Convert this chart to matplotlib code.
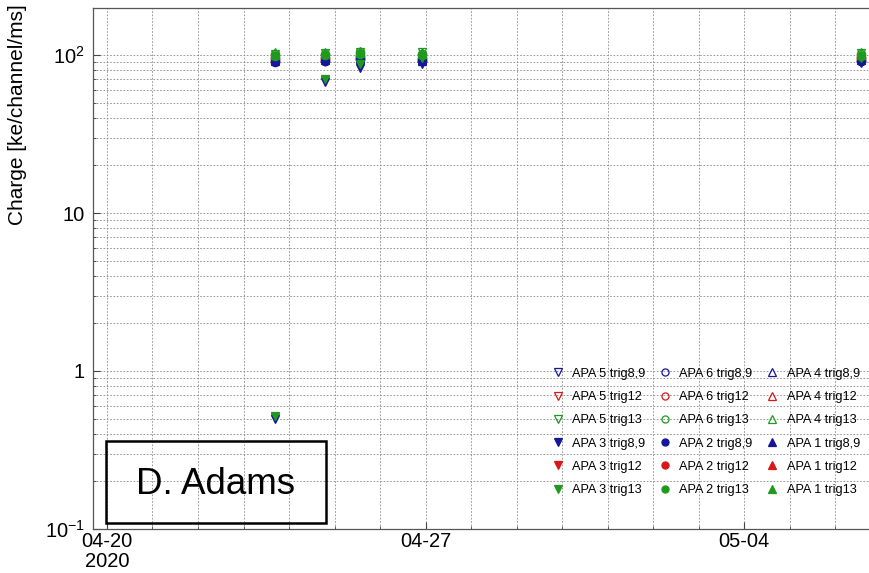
import numpy as np
import pandas as pd
import matplotlib
matplotlib.use('Agg')
import matplotlib.pyplot as plt
import matplotlib.dates as mdates
from matplotlib.ticker import FixedLocator, FixedFormatter, LogLocator, NullFormatter
from matplotlib.patches import Rectangle

plt.rcParams['font.family'] = ['Liberation Sans', 'DejaVu Sans']
plt.rcParams['mathtext.fontset'] = 'custom'
plt.rcParams['mathtext.rm'] = 'Liberation Sans'
plt.rcParams['mathtext.it'] = 'Liberation Sans:italic'

# Data
run_times = pd.to_datetime(['2020-04-23 16:30', '2020-04-24 19:00', '2020-04-25 13:30',
                            '2020-04-26 22:00', '2020-05-06 13:40'])

apa1_trig89 = [92, 93, 95, 92, 93]
apa1_trig12 = [96, 97, 98, 96, 97]
apa1_trig13 = [100, 101, 103, 101, 100]
apa2_trig89 = [90, 91, 94, 91, 92]
apa2_trig12 = [95, 96, 97, 95, 96]
apa2_trig13 = [99, 100, 102, 100, 99]
apa3_trig89 = [0.50, 67, 83, 88, 89]
apa3_trig12 = [0.51, 69, 86, 92, 92]
apa3_trig13 = [0.52, 71, 88, 96, 96]
apa4_trig89 = [93, 94, 96, 93, 94]
apa4_trig12 = [97, 98, 100, 98, 98]
apa4_trig13 = [104, 104, 106, 105, 104]
apa5_trig89 = [91, 92, 93, 90, 91]
apa5_trig12 = [96, 97, 99, 97, 97]
apa5_trig13 = [102, 103, 105, 104, 103]
apa6_trig89 = [92, 92, 95, 91, 92]
apa6_trig12 = [96, 96, 99, 96, 96]
apa6_trig13 = [101, 101, 104, 102, 101]

blue = '#16169a'
red = '#d81818'
green = '#1f9a1f'

# (label, values, marker, color, filled)
series = [
    ('APA 5 trig8,9', apa5_trig89, 'v', blue, False),
    ('APA 5 trig12', apa5_trig12, 'v', red, False),
    ('APA 5 trig13', apa5_trig13, 'v', green, False),
    ('APA 3 trig8,9', apa3_trig89, 'v', blue, True),
    ('APA 3 trig12', apa3_trig12, 'v', red, True),
    ('APA 3 trig13', apa3_trig13, 'v', green, True),
    ('APA 6 trig8,9', apa6_trig89, 'o', blue, False),
    ('APA 6 trig12', apa6_trig12, 'o', red, False),
    ('APA 6 trig13', apa6_trig13, 'o', green, False),
    ('APA 2 trig8,9', apa2_trig89, 'o', blue, True),
    ('APA 2 trig12', apa2_trig12, 'o', red, True),
    ('APA 2 trig13', apa2_trig13, 'o', green, True),
    ('APA 4 trig8,9', apa4_trig89, '^', blue, False),
    ('APA 4 trig12', apa4_trig12, '^', red, False),
    ('APA 4 trig13', apa4_trig13, '^', green, False),
    ('APA 1 trig8,9', apa1_trig89, '^', blue, True),
    ('APA 1 trig12', apa1_trig12, '^', red, True),
    ('APA 1 trig13', apa1_trig13, '^', green, True),
]

fig = plt.figure(figsize=(8.69, 5.73), dpi=100)
ax = fig.add_axes([0.107, 0.0768, 0.913, 0.909])

# draw red first, then blue, green last (green sits on top in the original)
order = [1, 4, 7, 10, 13, 16, 0, 3, 6, 9, 12, 15, 2, 5, 8, 11, 14, 17]
handles = [None] * len(series)
for i in order:
    label, vals, mk, col, filled = series[i]
    h, = ax.plot(run_times, vals, linestyle='none', marker=mk, color=col,
                 markerfacecolor=col if filled else 'none',
                 markeredgewidth=0.9, markersize=6, label=label)
    handles[i] = h

ax.set_yscale('log')
ax.set_ylim(0.1, 198)
ax.set_xlim(pd.Timestamp('2020-04-19 16:37'), pd.Timestamp('2020-05-07 03:00'))

# y ticks
ax.yaxis.set_major_locator(FixedLocator([0.1, 1, 10, 100]))
ax.yaxis.set_major_formatter(FixedFormatter([r'$10^{-1}$', '1', '10', r'$10^{2}$']))
ax.yaxis.set_minor_locator(LogLocator(base=10, subs=np.arange(2, 10)))
ax.yaxis.set_minor_formatter(NullFormatter())

# x ticks
week_ticks = pd.to_datetime(['2020-04-20', '2020-04-27', '2020-05-04'])
ax.xaxis.set_major_locator(FixedLocator(mdates.date2num(week_ticks)))
ax.xaxis.set_major_formatter(FixedFormatter(['04-20\n2020', '04-27', '05-04']))
ax.xaxis.set_minor_locator(mdates.DayLocator())

ax.tick_params(which='both', direction='in', labelsize=14.5, colors='#444444', labelcolor='black')
ax.tick_params(which='major', length=5, pad=6)
ax.tick_params(which='minor', length=2.5)
ax.tick_params(axis='x', pad=2)
for lbl in ax.get_xticklabels():
    lbl.set_linespacing(1.05)

ax.grid(which='both', color='#888888', linestyle=(0, (2, 2)), linewidth=0.6)
for s in ax.spines.values():
    s.set_color('#555555')
    s.set_linewidth(0.9)

ax.set_ylabel('Charge [ke/channel/ms]', fontsize=15)
ax.yaxis.set_label_coords(-0.083, 0.795)

ax.legend(handles=handles, ncol=3, loc='upper left', bbox_to_anchor=(0.627, 0.369),
          bbox_transform=fig.transFigure, frameon=False, fontsize=9.2,
          handlelength=1.0, handletextpad=0.65, columnspacing=1.0,
          labelspacing=0.88, markerscale=0.85, borderpad=0)

# signature box
fig.add_artist(Rectangle((0.122, 0.0873), 0.253, 0.143, transform=fig.transFigure,
                         fill=False, edgecolor='black', linewidth=1.8))
fig.text(0.248, 0.155, 'D. Adams', fontsize=26.5, ha='center', va='center')

fig.savefig('out.png', dpi=100)
